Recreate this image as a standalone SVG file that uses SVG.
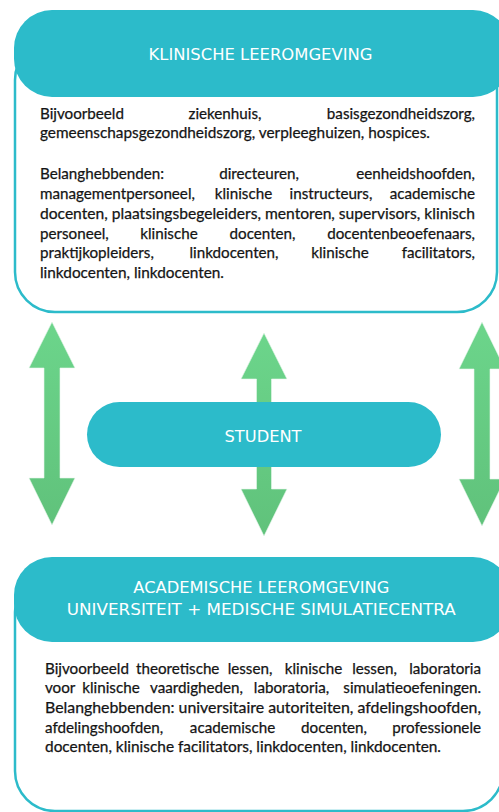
<svg xmlns="http://www.w3.org/2000/svg" width="499" height="812" viewBox="0 0 499 812">
  <defs>
    <linearGradient id="arrowFill" x1="0" y1="0" x2="0" y2="1">
      <stop offset="0" stop-color="#6cd58b"/>
      <stop offset="1" stop-color="#60c27b"/>
    </linearGradient>
    <style>
      .frame { fill: #ffffff; stroke: #2cbbca; stroke-width: 2.5; }
      .band { fill: #2cbbca; }
      .title { font-family: "DejaVu Sans", Verdana, sans-serif; font-size: 16.3px; fill: #ffffff; text-anchor: middle; }
      .body { font-family: Lato, "Open Sans", sans-serif; font-size: 15.2px; fill: #141414; stroke: #141414; stroke-width: 0.25; }
      .mid { text-anchor: middle; }
      .end { text-anchor: end; }
      .arrow { fill: url(#arrowFill); stroke: #e8f7ec; stroke-width: 0.6; }
    </style>
  </defs>
  <rect width="499" height="812" fill="#ffffff"/>

  <!-- double-headed arrows between the two environments -->
  <g id="connectors">
    <polygon class="arrow" points="52,322 75,368 60,368 60,478 75,478 52,525 29,478 44,478 44,368 29,368"/>
    <polygon class="arrow" points="264,333 287,379 271.5,379 271.5,489 287,489 264,536 241,489 256.5,489 256.5,379 241,379"/>
    <polygon class="arrow" points="482,322 505,369 490,369 490,479 505,479 482,526 459,479 474,479 474,369 459,369"/>
  </g>

  <!-- clinical learning environment -->
  <g id="klinische-leeromgeving">
    <rect class="frame" x="15" y="40" width="482" height="272" rx="40" ry="40"/>
    <rect class="band" x="14" y="10" width="497" height="87" rx="38" ry="38"/>
    <text class="title" x="260.5" y="60" textLength="224" lengthAdjust="spacingAndGlyphs">KLINISCHE LEEROMGEVING</text>
    <g class="body">
      <text y="118.5"><tspan x="40">Bijvoorbeeld</tspan><tspan class="mid" x="225">ziekenhuis,</tspan><tspan class="end" x="475">basisgezondheidszorg,</tspan></text>
      <text x="40" y="138" textLength="390" lengthAdjust="spacingAndGlyphs">gemeenschapsgezondheidszorg, verpleeghuizen, hospices.</text>
      <text y="178.5"><tspan x="40">Belanghebbenden:</tspan><tspan class="mid" x="259">directeuren,</tspan><tspan class="end" x="475">eenheidshoofden,</tspan></text>
      <text y="198.5"><tspan x="40">managementpersoneel,</tspan><tspan class="mid" x="243.5">klinische</tspan><tspan class="mid" x="331">instructeurs,</tspan><tspan class="end" x="475">academische</tspan></text>
      <text x="40" y="218.5" textLength="435" lengthAdjust="spacingAndGlyphs">docenten, plaatsingsbegeleiders, mentoren, supervisors, klinisch</text>
      <text y="238.5"><tspan x="40">personeel,</tspan><tspan class="mid" x="169">klinische</tspan><tspan class="mid" x="262.5">docenten,</tspan><tspan class="end" x="475">docentenbeoefenaars,</tspan></text>
      <text y="258"><tspan x="40">praktijkopleiders,</tspan><tspan class="mid" x="234">linkdocenten,</tspan><tspan class="mid" x="340">klinische</tspan><tspan class="end" x="475">facilitators,</tspan></text>
      <text x="40" y="278" textLength="184" lengthAdjust="spacingAndGlyphs">linkdocenten, linkdocenten.</text>
    </g>
  </g>

  <!-- student -->
  <g id="student">
    <rect class="band" x="87" y="402" width="354" height="65" rx="32.5" ry="32.5"/>
    <text class="title" x="263" y="442" textLength="77" lengthAdjust="spacingAndGlyphs">STUDENT</text>
  </g>

  <!-- academic learning environment -->
  <g id="academische-leeromgeving">
    <rect class="frame" x="15" y="572" width="488" height="239" rx="40" ry="40"/>
    <rect class="band" x="14" y="557" width="497" height="85" rx="38" ry="38"/>
    <text class="title" x="261.3" y="593.3" textLength="256" lengthAdjust="spacingAndGlyphs">ACADEMISCHE LEEROMGEVING</text>
    <text class="title" x="261.3" y="615" textLength="389" lengthAdjust="spacingAndGlyphs">UNIVERSITEIT + MEDISCHE SIMULATIECENTRA</text>
    <g class="body">
      <text y="673.5"><tspan x="45">Bijvoorbeeld</tspan><tspan class="mid" x="177.7">theoretische</tspan><tspan class="mid" x="250">lessen,</tspan><tspan class="mid" x="313.5">klinische</tspan><tspan class="mid" x="374.5">lessen,</tspan><tspan class="end" x="481">laboratoria</tspan></text>
      <text y="693"><tspan x="45">voor</tspan><tspan class="mid" x="111">klinische</tspan><tspan class="mid" x="196.5">vaardigheden,</tspan><tspan class="mid" x="291.5">laboratoria,</tspan><tspan class="end" x="481">simulatieoefeningen.</tspan></text>
      <text x="45" y="713" textLength="436" lengthAdjust="spacingAndGlyphs">Belanghebbenden: universitaire autoriteiten, afdelingshoofden,</text>
      <text y="732.5"><tspan x="45">afdelingshoofden,</tspan><tspan class="mid" x="232.5">academische</tspan><tspan class="mid" x="334">docenten,</tspan><tspan class="end" x="481">professionele</tspan></text>
      <text x="45" y="752" textLength="396" lengthAdjust="spacingAndGlyphs">docenten, klinische facilitators, linkdocenten, linkdocenten.</text>
    </g>
  </g>
</svg>
